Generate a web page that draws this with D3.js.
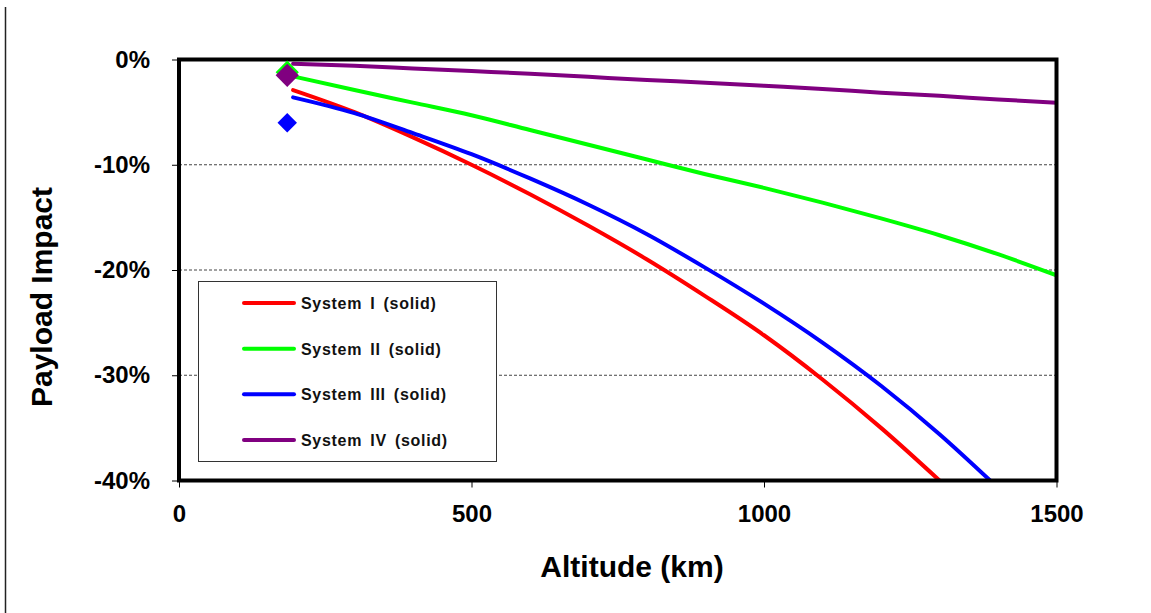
<!DOCTYPE html>
<html>
<head>
<meta charset="utf-8">
<script src="https://cdn.jsdelivr.net/npm/d3@7"></script>
<style>
  html, body { margin: 0; padding: 0; background: #fff; }
  svg { display: block; font-family: "Liberation Sans", Arial, sans-serif; }
</style>
</head>
<body>
<svg id="chart" width="1151" height="613"></svg>
<script>
// Values (altitude in km, payload impact in %)
const altitudes = [195, 300, 400, 500, 600, 700, 800, 900, 1000, 1100, 1200, 1300, 1400, 1500];
const system1 = [-2.9, -5.0, -7.4, -10.0, -12.8, -15.8, -19.0, -22.5, -26.2, -30.4, -35.0, -40.0, null, null];
const system2 = [-1.6, -2.9, -4.1, -5.3, -6.7, -8.1, -9.5, -10.9, -12.2, -13.6, -15.1, -16.7, -18.5, -20.5];
const system3 = [-3.6, -5.1, -7.0, -9.0, -11.3, -13.8, -16.6, -19.8, -23.2, -26.9, -31.0, -35.6, -40.7, null];
const system4 = [-0.4, -0.6, -0.85, -1.1, -1.35, -1.65, -1.95, -2.2, -2.5, -2.8, -3.15, -3.45, -3.8, -4.1];

const seriesNames = ["System I (solid)", "System II (solid)", "System III (solid)", "System IV (solid)"];
const seriesColors = ["#ff0000", "#00ff00", "#0000ff", "#800080"];

// Single diamond points near 185 km (green, purple, blue)
const pointAlt = [185, 185, 185];
const pointValues = [-1.2, -1.5, -6.0];
const pointColors = ["#00ff00", "#800080", "#0000ff"];

const xTicks = [0, 500, 1000, 1500];
const yTicks = [0, -10, -20, -30, -40];
const gridValues = [-10, -20, -30];

const svg = d3.select("#chart");

// plot area edges
const plotLeft = 179, plotRight = 1056.5, plotTop = 59.5, plotBottom = 480.5;

const x = d3.scaleLinear().domain([0, 1500]).range([plotLeft, plotRight]);
const y = d3.scaleLinear().domain([0, -40]).range([plotTop, plotBottom]);

// thin page border line on the left
svg.append("line")
    .attr("x1", 5.5).attr("x2", 5.5)
    .attr("y1", 7).attr("y2", 613)
    .attr("stroke", "#222")
    .attr("stroke-width", 1.5);

// gridlines
svg.append("g")
    .selectAll("line")
    .data(gridValues)
    .enter()
    .append("line")
    .attr("x1", plotLeft).attr("x2", plotRight)
    .attr("y1", d => y(d)).attr("y2", d => y(d))
    .attr("stroke", "#444")
    .attr("stroke-width", 1)
    .attr("stroke-dasharray", "3,2");

// axes
const yAxis = d3.axisLeft(y)
    .tickValues(yTicks)
    .tickSize(7)
    .tickPadding(22)
    .tickFormat(d => d + "%");

const xAxis = d3.axisBottom(x)
    .tickValues(xTicks)
    .tickSize(7)
    .tickPadding(17)
    .tickFormat(d3.format("d"));

const gy = svg.append("g").attr("transform", `translate(${plotLeft},0)`).call(yAxis);
const gx = svg.append("g").attr("transform", `translate(0,${plotBottom})`).call(xAxis);

[gy, gx].forEach(g => {
    g.select(".domain").remove();
    g.selectAll(".tick line").attr("stroke", "#000").attr("stroke-width", 1);
    g.selectAll(".tick text")
        .attr("fill", "#000")
        .style("font-size", "24px")
        .style("font-weight", "bold")
        .style("font-family", "'Liberation Sans', Arial, sans-serif");
});

// clip for the curves
svg.append("clipPath").attr("id", "plot-clip")
    .append("rect")
    .attr("x", plotLeft).attr("y", plotTop)
    .attr("width", plotRight - plotLeft).attr("height", plotBottom - plotTop);

const allSeries = [system1, system2, system3, system4];

const line = d3.line()
    .defined(d => d.v !== null)
    .x(d => x(d.alt))
    .y(d => y(d.v))
    .curve(d3.curveMonotoneX);

svg.append("g")
    .attr("clip-path", "url(#plot-clip)")
    .selectAll("path")
    .data(allSeries)
    .enter()
    .append("path")
    .attr("d", vals => line(vals.map((v, i) => ({ alt: altitudes[i], v: v }))))
    .attr("fill", "none")
    .attr("stroke", (d, i) => seriesColors[i])
    .attr("stroke-width", 4)
    .attr("stroke-linecap", "round")
    .attr("stroke-linejoin", "round");

// plot frame
svg.append("rect")
    .attr("x", plotLeft).attr("y", plotTop)
    .attr("width", plotRight - plotLeft).attr("height", plotBottom - plotTop)
    .attr("fill", "none")
    .attr("stroke", "#000")
    .attr("stroke-width", 4);

// diamond markers
svg.append("g")
    .selectAll("path")
    .data(pointValues)
    .enter()
    .append("path")
    .attr("d", (d, i) => d3.symbol().type(d3.symbolSquare).size(i === 2 ? 190 : 270)())
    .attr("transform", (d, i) => `translate(${x(pointAlt[i])},${y(d)}) rotate(45)`)
    .attr("fill", (d, i) => pointColors[i]);

// legend
const legend = svg.append("g");
legend.append("rect")
    .attr("x", 198.5).attr("y", 281.5)
    .attr("width", 298).attr("height", 180)
    .attr("fill", "#fff")
    .attr("stroke", "#333")
    .attr("stroke-width", 1);

const legendY = d3.scalePoint().domain(seriesNames).range([303, 440]);

const items = legend.selectAll("g.item")
    .data(seriesNames)
    .enter()
    .append("g")
    .attr("class", "item")
    .attr("transform", d => `translate(0,${legendY(d)})`);

items.append("line")
    .attr("x1", 244).attr("x2", 294)
    .attr("y1", 0).attr("y2", 0)
    .attr("stroke", (d, i) => seriesColors[i])
    .attr("stroke-width", 4)
    .attr("stroke-linecap", "round");

items.append("text")
    .attr("x", 301)
    .attr("y", 6)
    .style("font-size", "16px")
    .style("font-weight", "bold")
    .style("letter-spacing", "0.7px")
    .style("word-spacing", "3px")
    .attr("fill", "#111")
    .text(d => d);

// axis titles
svg.append("text")
    .attr("transform", "translate(52,297) rotate(-90)")
    .attr("text-anchor", "middle")
    .style("font-size", "30px")
    .style("font-weight", "bold")
    .attr("fill", "#000")
    .text("Payload Impact");

svg.append("text")
    .attr("x", 632)
    .attr("y", 577)
    .attr("text-anchor", "middle")
    .style("font-size", "30px")
    .style("font-weight", "bold")
    .attr("fill", "#000")
    .text("Altitude (km)");
</script>
</body>
</html>
